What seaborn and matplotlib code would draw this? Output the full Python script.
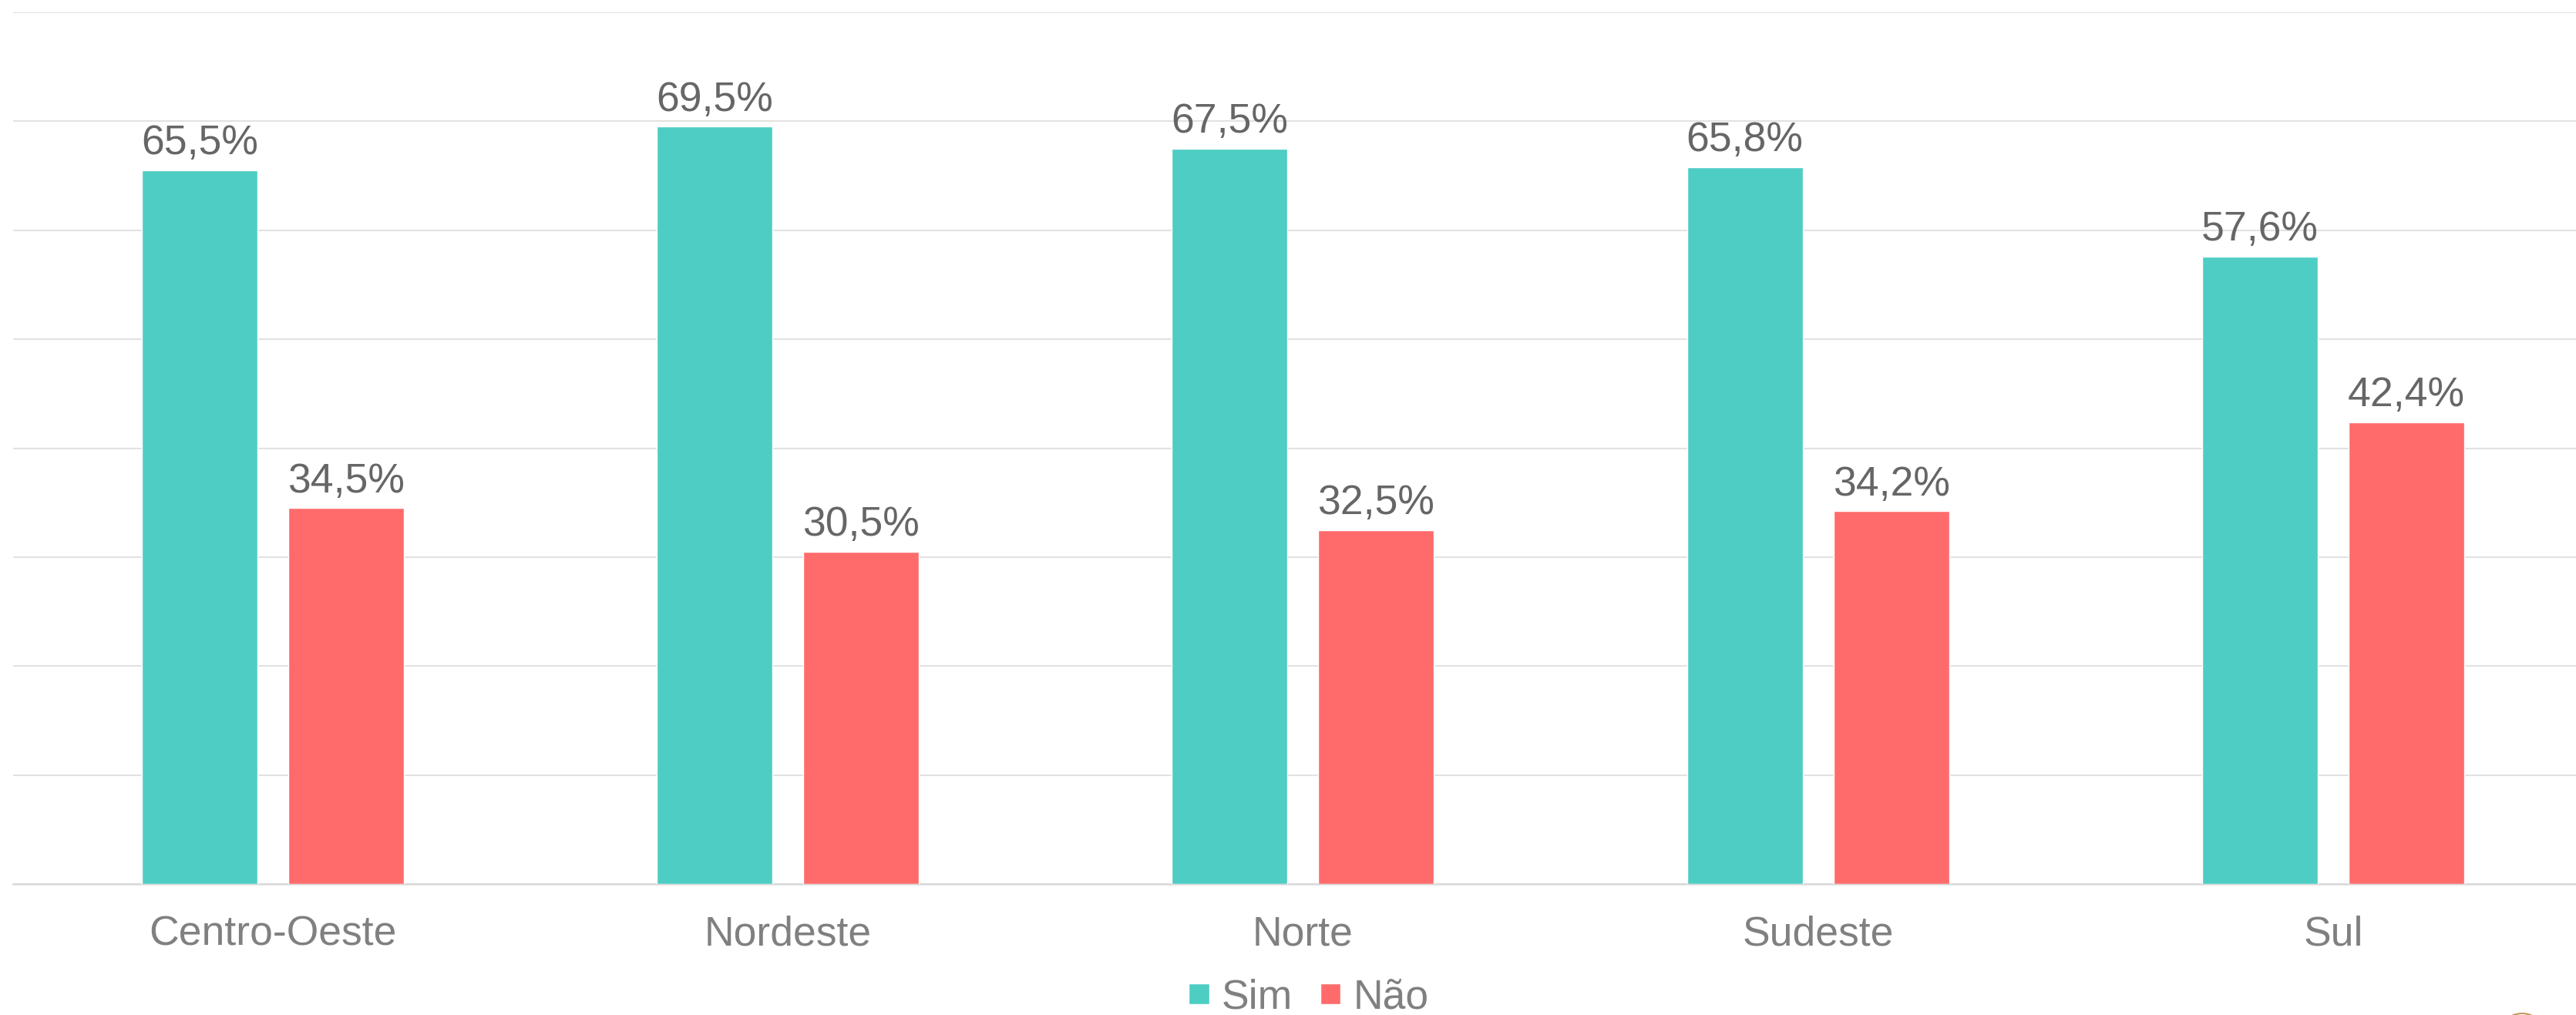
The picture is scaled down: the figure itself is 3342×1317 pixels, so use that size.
import matplotlib
matplotlib.use('Agg')
import matplotlib.pyplot as plt
import matplotlib.patches as mpatches
import seaborn as sns
import pandas as pd

# dados
regioes = ['Centro-Oeste', 'Nordeste', 'Norte', 'Sudeste', 'Sul']
sim = [65.5, 69.5, 67.5, 65.8, 57.6]
nao = [34.5, 30.5, 32.5, 34.2, 42.4]
respostas = ['Sim', 'Não']
cores = ['#4ECDC4', '#FF6B6B']

df = pd.DataFrame({
    'regiao': regioes * 2,
    'resposta': ['Sim'] * len(regioes) + ['Não'] * len(regioes),
    'valor': sim + nao,
})

sns.set_style('white')
plt.rcParams['font.family'] = ['Liberation Sans', 'DejaVu Sans']
FS = 38.5

fig = plt.figure(figsize=(33.42, 13.17), dpi=100)
ax = fig.add_axes([17 / 3342, 1 - 1147 / 1317, 1 - 17 / 3342, (1147 - 16) / 1317])

sns.barplot(data=df, x='regiao', y='valor', hue='resposta', hue_order=respostas,
            palette=cores, width=0.5686, gap=0.21, saturation=1, ax=ax, zorder=3)

# rótulos com vírgula decimal
for cont, vals in zip(ax.containers, [sim, nao]):
    ax.bar_label(cont, labels=[f'{v:.1f}%'.replace('.', ',') for v in vals],
                 padding=7, fontsize=FS, color='#666666')

ax.set_ylim(0, 80)
ax.set_xlim(-0.504, 4.4715)
ax.set_yticks(range(0, 81, 10))
ax.set_yticklabels([])
ax.tick_params(axis='y', length=0)
ax.tick_params(axis='x', length=0, pad=29, labelsize=FS, labelcolor='#808080')
ax.yaxis.grid(True, color='#e2e2e2', linewidth=1.5, zorder=0)
ax.set_axisbelow(True)
ax.set_xlabel('')
ax.set_ylabel('')
for s in ['top', 'right', 'left']:
    ax.spines[s].set_visible(False)
ax.spines['bottom'].set_color('#dadada')
ax.spines['bottom'].set_linewidth(1.8)

ax.legend(loc='lower center', bbox_to_anchor=(0.508, -0.002), bbox_transform=fig.transFigure,
          ncol=2, frameon=False, fontsize=FS, labelcolor='#808080',
          handlelength=0.5, handleheight=0.4, handletextpad=0.3, columnspacing=0.67,
          borderpad=0, borderaxespad=0)

# pedaço do logotipo no canto inferior direito
fig.patches.append(mpatches.Ellipse((3272 / 3342, -30 / 1317), 64 / 3342, 64 / 1317,
                                    transform=fig.transFigure, fill=False,
                                    edgecolor='#c49a5a', linewidth=1.5))
fig.patches.append(mpatches.Ellipse((3272 / 3342, -30 / 1317), 50 / 3342, 50 / 1317,
                                    transform=fig.transFigure, facecolor='#c49a5a',
                                    edgecolor='none'))

plt.savefig('out.png', dpi=100)
